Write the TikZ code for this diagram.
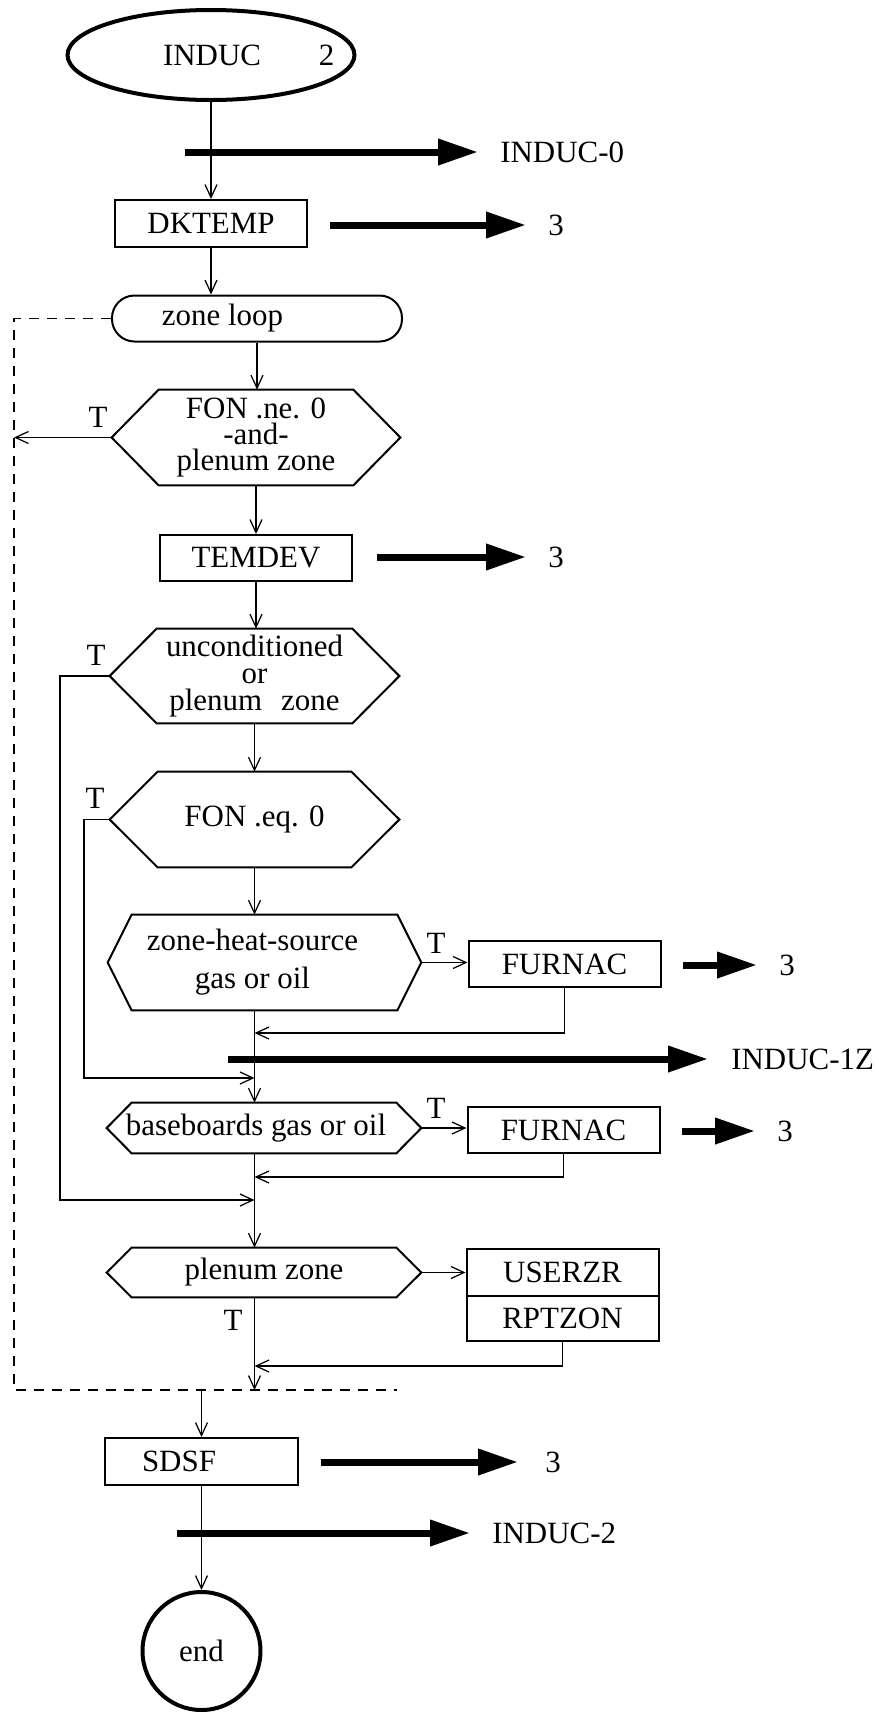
\documentclass[tikz,border=0pt]{standalone}
\usepackage{fontspec}
\setmainfont{Liberation Serif}
\usetikzlibrary{positioning,arrows.meta,shapes.geometric}
\newcommand{\chartfont}{\fontsize{17.6pt}{21pt}\selectfont}
\tikzset{
startoval/.style={
draw,
ellipse,
line width=0.8mm,
minimum width=57.4mm,
minimum height=18mm,
inner sep=0pt,
font=\chartfont
},
proc/.style={
draw,
rectangle,
line width=0.4mm,
minimum width=38.4mm,
minimum height=9.4mm,
inner sep=0pt,
font=\chartfont
},
loopbox/.style={
draw,
rounded corners=4.5mm,
line width=0.4mm,
minimum width=58mm,
minimum height=9.2mm,
inner sep=0pt,
font=\chartfont
},
test/.style={
inner sep=0pt,
align=center,
font=\chartfont
},
endcircle/.style={
draw,
circle,
line width=0.8mm,
minimum size=23.6mm,
inner sep=0pt,
font=\chartfont
},
lbl/.style={
inner sep=0pt,
font=\chartfont
},
flow/.style={
-{Straight Barb[length=2.6mm,width=2.4mm]},
line width=0.25mm
},
bigarrow/.style={
-{Triangle[length=8mm,width=5mm]},
line width=1.4mm
},
loopline/.style={
dash pattern=on 2mm off 1.6mm,
line width=0.3mm
},
hexline/.style={
line width=0.4mm
}
}

\begin{document}
\begin{tikzpicture}[x=0.2mm,y=-0.2mm,node distance=5mm]
\useasboundingbox (0,0) rectangle (878,1712);

\node[startoval](start) at (211,55){\makebox[0pt]{\hspace*{15.1mm}INDUC\hspace{11.6mm}2}};
\node[proc](dk) at (211,223.5){DKTEMP};
\node[loopbox](loop) at (257,318.5){zone loop\hspace*{13.8mm}};
\node[test,minimum width=57.6mm,minimum height=19mm,font=\fontsize{17.6pt}{14.8pt}\selectfont](hx1) at (256,437.5){FON .ne. 0\\-and-\\plenum zone};
\node[proc,minimum height=9.2mm](tem) at (256,558){TEMDEV};
\node[test,minimum width=57.8mm,minimum height=18.8mm,font=\fontsize{17.6pt}{15.6pt}\selectfont](hx2) at (254.5,676){unconditioned\\or\\plenum\hspace{3.8mm}zone};
\node[test,minimum width=57.8mm,minimum height=19mm](hx3) at (254.5,819.5){FON .eq. 0};
\node[test,minimum width=62.6mm,minimum height=19mm,font=\fontsize{17.6pt}{21.6pt}\selectfont](hx4) at (264.5,962.5){zone-heat-source\hspace*{4.8mm}\\gas or oil\hspace*{4.8mm}};
\node[proc,minimum height=9.2mm](fur1) at (564.5,964){FURNAC};
\node[test,minimum width=62.8mm,minimum height=10mm](hx5) at (264,1128){baseboards gas or oil\hspace*{3.2mm}};
\node[proc,minimum height=9.2mm](fur2) at (563.5,1130){FURNAC};
\node[test,minimum width=62.8mm,minimum height=9.8mm](hx6) at (264,1272.5){plenum zone};
\node[proc,minimum height=9.4mm](usr) at (562.5,1272.5){USERZR};
\node[proc,minimum height=9mm,below=-0.4mm of usr](rpt){RPTZON};
\node[proc](sdsf) at (201.5,1461.5){SDSF\hspace*{9mm}};
\node[endcircle](endc) at (201.5,1651){end};

\foreach \n/\d in {hx1/9.4mm,hx2/9.4mm,hx3/9.6mm,hx4/4.8mm,hx5/5mm,hx6/5mm}
\draw[hexline](\n.west)--([xshift=\d]\n.north west)--([xshift=-\d]\n.north east)--(\n.east)--([xshift=-\d]\n.south east)--([xshift=\d]\n.south west)--cycle;

\node[lbl](t1) at (98,417){T};
\node[lbl](t2) at (96,655){T};
\node[lbl](t3) at (95,798){T};
\node[lbl](t4) at (436,943){T};
\node[lbl](t5) at (436,1108){T};
\node[lbl](t6) at (233,1320){T};

\coordinate (col) at (hx3.south);
\coordinate (dbl) at (14,1390);
\coordinate (dbr) at (397,1390);
\coordinate (sk2) at (60,1200);
\coordinate (sk3) at (84,1078);
\coordinate (rt1) at (254.5,1033);
\coordinate (rt2) at (254.5,1177);
\coordinate (rt3) at (254.5,1366);

\draw[flow](start.south)--(start.south |- dk.north);
\draw[flow](dk.south)--(dk.south |- loop.north);
\draw[flow](loop.south)--(loop.south |- hx1.north);
\draw[flow](hx1.south)--(hx1.south |- tem.north);
\draw[flow](tem.south)--(tem.south |- hx2.north);
\draw[flow](hx2.south)--(hx2.south |- hx3.north);
\foreach \x/\y in {hx3/hx4,hx4/hx5,hx5/hx6}
\draw[flow](col |- \x.south)--(col |- \y.north);
\draw[flow](col |- hx6.south)--(col |- dbl);

\draw[flow](hx4.east)--(hx4.east -| fur1.west);
\draw[flow](hx5.east)--(hx5.east -| fur2.west);
\draw[flow](hx6.east)--(hx6.east -| usr.west);
\foreach \x/\y in {fur1/rt1,fur2/rt2,rpt/rt3}
\draw[flow](\x.south)|-(\y);
\draw[flow](hx3.west)-|(sk3)--(sk3 -| col);
\draw[flow](hx2.west)-|(sk2)--(sk2 -| col);

\draw[loopline](loop.west)-|(dbl)--(dbr);
\draw[flow](hx1.west)--(hx1.west -| dbl);
\draw[flow](sdsf.north |- dbl)--(sdsf.north);
\draw[flow](sdsf.south)--(endc.north);

\coordinate (i0a) at (185,152);
\coordinate (i0b) at (478,152);
\coordinate (dka) at (330,225);
\coordinate (dkb) at (526,225);
\coordinate (tma) at (377,557);
\coordinate (tmb) at (526,557);
\coordinate (f1a) at (683,965);
\coordinate (f1b) at (757,965);
\coordinate (i1a) at (228,1059);
\coordinate (i1b) at (708,1059);
\coordinate (f2a) at (682,1131);
\coordinate (f2b) at (755,1131);
\coordinate (sda) at (321,1462);
\coordinate (sdb) at (518,1462);
\coordinate (i2a) at (177,1533);
\coordinate (i2b) at (470,1533);

\node[lbl,right=4.4mm of i0b](i0){INDUC-0};
\node[lbl,right=4.4mm of dkb](dk3){3};
\node[lbl,right=4.4mm of tmb](tm3){3};
\node[lbl,right=4.4mm of f1b](f13){3};
\node[lbl,right=4.6mm of i1b](i1){INDUC-1Z};
\node[lbl,right=4.4mm of f2b](f23){3};
\node[lbl,right=5.4mm of sdb](sd3){3};
\node[lbl,right=4.4mm of i2b](i2){INDUC-2};

\foreach \x/\y in {i0a/i0b,dka/dkb,tma/tmb,f1a/f1b,i1a/i1b,f2a/f2b,sda/sdb,i2a/i2b}
\draw[bigarrow](\x)--(\y);
\end{tikzpicture}
\end{document}
